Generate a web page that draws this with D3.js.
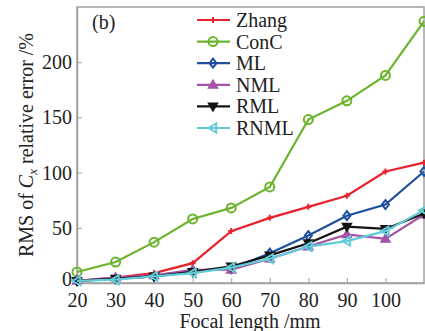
<!DOCTYPE html>
<html>
<head>
<meta charset="utf-8">
<script src="https://cdn.jsdelivr.net/npm/d3@7"></script>
<style>
  body { margin: 0; background: #fff; }
  svg { display: block; font-family: "Liberation Serif", "DejaVu Serif", serif; }
</style>
</head>
<body>
<script>
const focal = [20, 30, 40, 50, 60, 70, 80, 90, 100, 110];
const zhang = [2, 5, 9, 18, 47, 59, 69, 79, 101, 109];
const conc  = [10, 19, 37, 58, 68, 87, 148, 165, 188, 237];
const ml    = [2, 4, 6, 11, 13, 27, 43, 61, 71, 101];
const nml   = [2, 5, 7, 12, 12, 22, 33, 44, 40, 62];
const rml   = [2, 4, 6, 10, 15, 25, 36, 51, 49, 63];
const rnml  = [2, 3, 6, 9, 14, 22, 33, 38, 47, 66];
const xTicks = [20, 30, 40, 50, 60, 70, 80, 90, 100];
const yTicks = [0, 50, 100, 150, 200];

const series = [
  { name: 'Zhang', values: zhang, color: '#e8222c', marker: 'plus' },
  { name: 'ConC', values: conc, color: '#6cb42e', marker: 'circle' },
  { name: 'ML', values: ml, color: '#1f4f9e', marker: 'diamond' },
  { name: 'NML', values: nml, color: '#a453a6', marker: 'up' },
  { name: 'RML', values: rml, color: '#141414', marker: 'down' },
  { name: 'RNML', values: rnml, color: '#62cbd9', marker: 'left' }
];

const [w, h] = [425, 331];
const margin = { left: 77, right: 1, top: 7, bottom: 48 };

const svg = d3.select('body').append('svg')
  .attr('width', w)
  .attr('height', h);

const x = d3.scaleLinear().domain([20, 110]).range([margin.left, w - margin.right]);
const y = d3.scaleLinear().domain([0, 250]).range([h - margin.bottom, margin.top]);

// frame
svg.append('rect')
  .attr('x', margin.left)
  .attr('y', margin.top)
  .attr('width', w - margin.right - margin.left)
  .attr('height', h - margin.bottom - margin.top)
  .attr('fill', 'none')
  .attr('stroke', '#a0a0a0')
  .attr('stroke-width', 1.5);

// axes with inward ticks
const xAxis = svg.append('g')
  .attr('transform', `translate(0, ${h - margin.bottom})`)
  .call(d3.axisBottom(x).tickValues(xTicks).tickSizeInner(-5).tickSizeOuter(0).tickPadding(10));
const yAxis = svg.append('g')
  .attr('transform', `translate(${margin.left}, 0)`)
  .call(d3.axisLeft(y).tickValues(yTicks).tickSizeInner(-5).tickSizeOuter(0).tickPadding(5));
[xAxis, yAxis].forEach(a => {
  a.select('.domain').attr('stroke', '#a0a0a0').attr('stroke-width', 1.5);
  a.selectAll('.tick line').attr('stroke', '#a0a0a0');
  a.selectAll('.tick text')
    .attr('font-family', '"Liberation Serif", serif')
    .attr('font-size', 20)
    .attr('fill', '#222');
});
// lift the bottom "0" a little so it clears the "20" below it
yAxis.selectAll('.tick text').filter(d => d === 0).attr('dy', '0.1em');

// axis titles
svg.append('text')
  .attr('x', 250)
  .attr('y', 328)
  .attr('text-anchor', 'middle')
  .attr('font-size', 20)
  .attr('fill', '#222')
  .text('Focal length /mm');

const yTitle = svg.append('text')
  .attr('transform', `translate(33, ${(margin.top + h - margin.bottom) / 2}) rotate(-90)`)
  .attr('text-anchor', 'middle')
  .attr('font-size', 20)
  .attr('fill', '#222');
yTitle.append('tspan').text('RMS of ');
yTitle.append('tspan').attr('font-style', 'italic').text('C');
yTitle.append('tspan').attr('font-style', 'italic').attr('font-size', 13).attr('dy', 4).text('x');
yTitle.append('tspan').attr('dy', -4).text(' relative error /%');

svg.append('text')
  .attr('x', 92)
  .attr('y', 29)
  .attr('font-size', 20)
  .attr('fill', '#222')
  .text('(b)');

function drawMarker(g, type, color, cx, cy) {
  const s = 4.5;
  if (type === 'plus') {
    g.append('path')
      .attr('d', `M${cx - 3},${cy}H${cx + 3}M${cx},${cy - 3}V${cy + 3}`)
      .attr('stroke', color).attr('stroke-width', 2);
  } else if (type === 'circle') {
    g.append('circle').attr('cx', cx).attr('cy', cy).attr('r', s)
      .attr('fill', 'none').attr('stroke', color).attr('stroke-width', 2);
  } else if (type === 'diamond') {
    g.append('path')
      .attr('d', `M${cx},${cy - s}L${cx + 3.5},${cy}L${cx},${cy + s}L${cx - 3.5},${cy}Z`)
      .attr('fill', 'none').attr('stroke', color).attr('stroke-width', 2);
  } else if (type === 'up') {
    g.append('path')
      .attr('d', `M${cx},${cy - s}L${cx + s},${cy + s * 0.7}L${cx - s},${cy + s * 0.7}Z`)
      .attr('fill', color).attr('stroke', color).attr('stroke-width', 1.5);
  } else if (type === 'down') {
    g.append('path')
      .attr('d', `M${cx},${cy + s}L${cx + s},${cy - s * 0.7}L${cx - s},${cy - s * 0.7}Z`)
      .attr('fill', color).attr('stroke', color).attr('stroke-width', 1.5);
  } else if (type === 'left') {
    g.append('path')
      .attr('d', `M${cx - s},${cy}L${cx + s * 0.7},${cy - s}L${cx + s * 0.7},${cy + s}Z`)
      .attr('fill', 'none').attr('stroke', color).attr('stroke-width', 2);
  }
}

// lines and markers
const line = d3.line().x((d, i) => x(focal[i])).y(d => y(d));
series.forEach(s => {
  const g = svg.append('g');
  g.append('path')
    .attr('d', line(s.values))
    .attr('fill', 'none')
    .attr('stroke', s.color)
    .attr('stroke-width', 2.2);
  s.values.forEach((v, i) => drawMarker(g, s.marker, s.color, x(focal[i]), y(v)));
});

// legend
const legend = svg.append('g').attr('transform', 'translate(197, 20)');
series.forEach((s, i) => {
  const row = legend.append('g').attr('transform', `translate(0, ${i * 21.6})`);
  row.append('line')
    .attr('x1', 0).attr('x2', 33).attr('y1', 0).attr('y2', 0)
    .attr('stroke', s.color).attr('stroke-width', 2.2);
  drawMarker(row, s.marker, s.color, 16, 0);
  row.append('text')
    .attr('x', 39)
    .attr('y', 7)
    .attr('font-size', 20)
    .attr('fill', '#222')
    .text(s.name);
});
</script>
</body>
</html>
